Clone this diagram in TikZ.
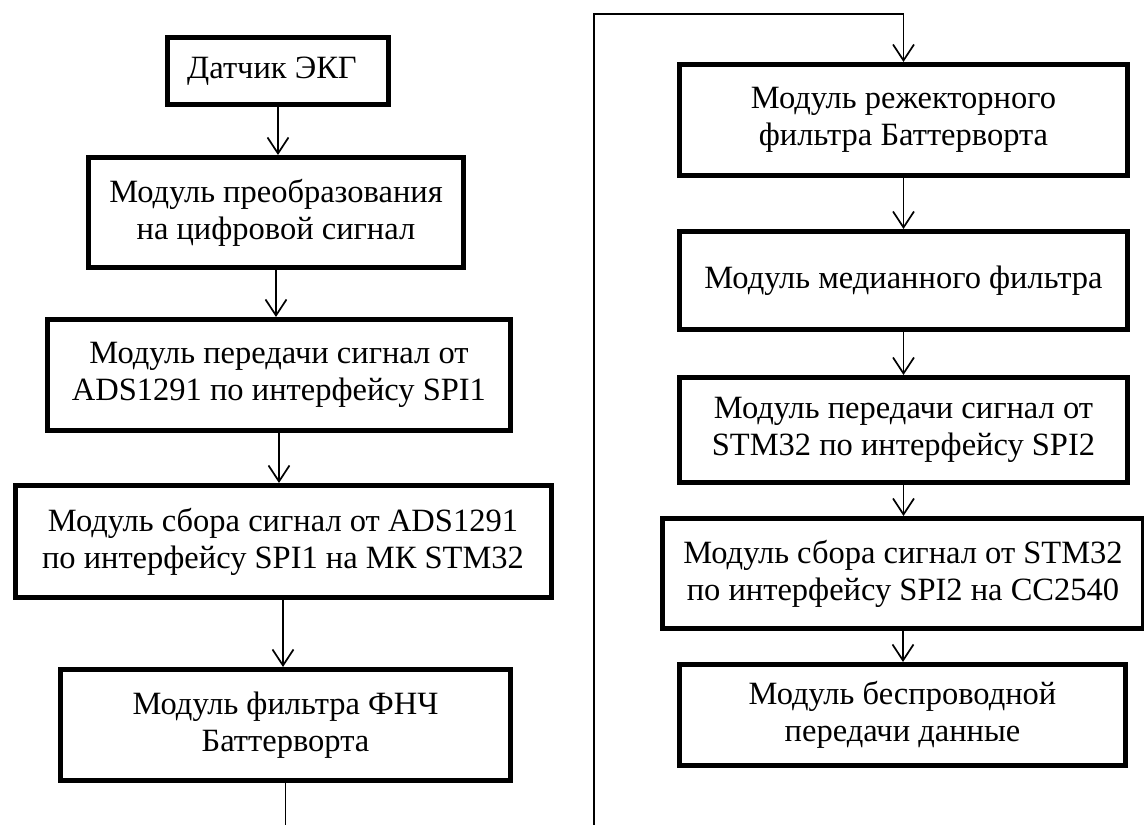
\documentclass[tikz,border=0pt]{standalone}
\usepackage{fontspec}
\setmainfont{Liberation Serif}
\usetikzlibrary{arrows.meta}
\begin{document}
\begin{tikzpicture}[x=1pt,y=-1pt,
  blk/.style={draw=black, line width=5pt, inner sep=0pt, align=center,
    font=\fontsize{32.5}{37}\selectfont},
  arr/.style={line width=1.7pt, -{Straight Barb[length=16pt,width=21pt,line width=1.7pt]}},
  ln/.style={line width=1.8pt}]
\useasboundingbox (0,0) rectangle (1144,825);
% left column
\node[blk, minimum width=221pt, minimum height=67pt] (b1) at (278,71) {Датчик ЭКГ\hspace*{12pt}};
\node[blk, minimum width=375pt, minimum height=110pt] (b2) at (276,212.5) {Модуль преобразования\\на цифровой сигнал};
\node[blk, minimum width=463pt, minimum height=111pt] (b3) at (279,375) {Модуль передачи сигнал от\\ADS1291 по интерфейсу SPI1};
\node[blk, minimum width=536pt, minimum height=112pt] (b4) at (283,541.5) {Модуль сбора сигнал от ADS1291\\по интерфейсу SPI1 на МК STM32};
\node[blk, minimum width=450pt, minimum height=111pt] (b5) at (285.5,725) {Модуль фильтра ФНЧ\\Баттерворта};
% right column
\node[blk, minimum width=448pt, minimum height=111pt] (r1) at (903.5,120) {Модуль режекторного\\фильтра Баттерворта};
\node[blk, minimum width=448pt, minimum height=98pt] (r2) at (903.5,280.5) {Модуль медианного фильтра};
\node[blk, minimum width=448pt, minimum height=105pt] (r3) at (903.5,430) {Модуль передачи сигнал от\\STM32 по интерфейсу SPI2};
\node[blk, minimum width=481pt, minimum height=110pt] (r4) at (903,573.5) {Модуль сбора сигнал от STM32\\по интерфейсу SPI2 на CC2540};
\node[blk, minimum width=446pt, minimum height=101pt] (r5) at (902.5,715) {Модуль беспроводной\\передачи данные};
% connectors
\draw[arr] (b1.south) -- (b1.south |- b2.north);
\draw[arr] (b2.south) -- (b2.south |- b3.north);
\draw[arr] (b3.south) -- (b3.south |- b4.north);
\draw[arr] (b4.south) -- (b4.south |- b5.north);
\coordinate (lend) at (285.5,830);
\draw[ln] (b5.south) -- (lend);
\coordinate (cb) at (594,830);
\coordinate (ct) at (594,14);
\draw[arr] (cb) -- (ct) -| (r1.north);
\draw[arr] (r1.south) -- (r1.south |- r2.north);
\draw[arr] (r2.south) -- (r2.south |- r3.north);
\draw[arr] (r3.south) -- (r3.south |- r4.north);
\draw[arr] (r4.south) -- (r4.south |- r5.north);
\end{tikzpicture}
\end{document}
